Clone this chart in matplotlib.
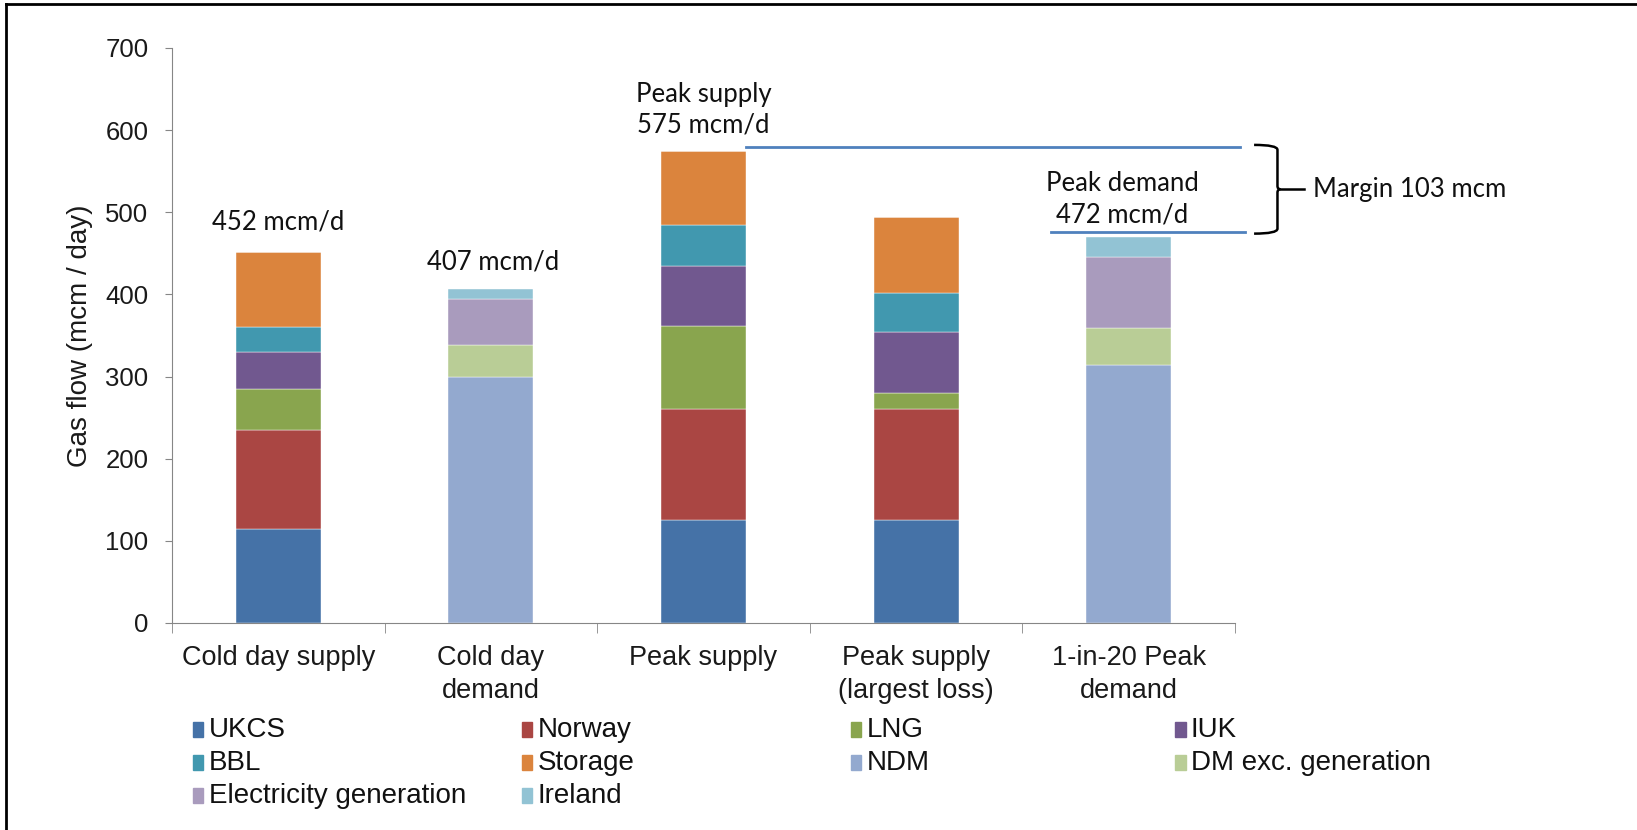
import numpy as np
import matplotlib
matplotlib.use("Agg")
import matplotlib.pyplot as plt
from matplotlib.path import Path
from matplotlib.patches import PathPatch, Rectangle
from matplotlib.lines import Line2D

# Categories and stacked series (mcm/d)
categories = ["Cold day supply", "Cold day\ndemand", "Peak supply",
              "Peak supply\n(largest loss)", "1-in-20 Peak\ndemand"]
series = ["UKCS", "Norway", "LNG", "IUK", "BBL", "Storage",
          "NDM", "DM exc. generation", "Electricity generation", "Ireland"]
ukcs = [115, 0, 125, 125, 0]
norway = [120, 0, 136, 136, 0]
lng = [50, 0, 100, 19, 0]
iuk = [45, 0, 74, 74, 0]
bbl = [30, 0, 49, 48, 0]
storage = [92, 0, 91, 92, 0]
ndm = [0, 299, 0, 0, 314]
dm_exc_gen = [0, 39, 0, 0, 45]
elec_gen = [0, 57, 0, 0, 87]
ireland = [0, 12, 0, 0, 24]
colors = ["#4572A7", "#AA4643", "#89A54E", "#71588F", "#4198AF", "#DB843D",
          "#93A9CF", "#B9CD96", "#A99BBD", "#92C3D4"]

total_labels = ["452 mcm/d", "407 mcm/d", "Peak supply\n575 mcm/d", None, "Peak demand\n472 mcm/d"]
peak_supply = 580
peak_demand = 476
margin_label = "Margin 103 mcm"

fig = plt.figure(figsize=(16.37, 8.30), dpi=100)
ax = fig.add_axes([0.1051, 0.2494, 0.6493, 0.6928])

x = np.arange(len(categories))
data = [ukcs, norway, lng, iuk, bbl, storage, ndm, dm_exc_gen, elec_gen, ireland]
bottom = np.zeros(len(categories))
for vals, name, col in zip(data, series, colors):
    vals = np.array(vals, dtype=float)
    ax.bar(x, vals, width=0.4, bottom=bottom, color=col, label=name,
           edgecolor="white", linewidth=0.3)
    bottom += vals

ax.set_xlim(-0.5, len(categories) - 0.5)
ax.set_ylim(0, 700)
ax.set_yticks(np.arange(0, 701, 100))
ax.tick_params(axis="y", labelsize=18.5, length=5, color="#868686", labelcolor="#1a1a1a", pad=12)
ax.set_xticks(x)
ax.set_xticklabels(categories, fontsize=19.5, color="#1a1a1a", linespacing=1.32)
ax.tick_params(axis="x", which="major", length=0, pad=16)
ax.set_xticks(np.arange(-0.5, len(categories)), minor=True)
ax.tick_params(axis="x", which="minor", length=7, color="#868686")
for s in ["top", "right"]:
    ax.spines[s].set_visible(False)
for s in ["left", "bottom"]:
    ax.spines[s].set_color("#868686")
ax.set_ylabel("Gas flow (mcm / day)", fontsize=20, color="#1a1a1a", labelpad=9)
for lab in ax.get_xticklabels() + ax.get_yticklabels():
    lab.set_family("Liberation Sans")
ax.yaxis.label.set_family("Liberation Sans")

# annotations above bars
ann_font = dict(fontsize=18.5, family="Lato", ha="center", va="center", color="#111111")
ax.text(0, 488, total_labels[0], **ann_font)
ax.text(1.01, 439, total_labels[1], **ann_font)
ax.text(2.0, 625, total_labels[2], linespacing=1.3, **ann_font)
ax.text(3.97, 516, total_labels[4], linespacing=1.3, **ann_font)

# peak supply / demand lines and margin bracket
line_col = "#4F81BD"
ax.plot([2.2, 4.523], [peak_supply, peak_supply], color=line_col, lw=2, clip_on=False)
ax.plot([3.635, 4.547], [peak_demand, peak_demand], color=line_col, lw=2, clip_on=False)

bx0, bx1, bx2 = 4.59, 4.70, 4.825
yt, yb = peak_supply + 2, peak_demand - 2
ym = (yt + yb) / 2
upper = [(bx0, yt), (bx1, yt), (bx1, yt - 6), (bx1, ym + 4), (bx1, ym), (bx1 + 0.015, ym)]
lower = [(bx1 + 0.015, ym), (bx1, ym), (bx1, ym - 4), (bx1, yb + 6), (bx1, yb), (bx0, yb)]
ucodes = [Path.MOVETO, Path.CURVE3, Path.CURVE3, Path.LINETO, Path.CURVE3, Path.CURVE3]
for verts in (upper, lower):
    ax.add_patch(PathPatch(Path(verts, ucodes), fill=False, lw=1.8, color="black", clip_on=False))
ax.plot([bx1 + 0.015, bx2], [ym, ym], color="black", lw=1.8, clip_on=False)
ax.text(4.867, ym, margin_label, fontsize=18.5, family="Lato", ha="left", va="center", color="#111111")

# legend laid out in 4 columns, filled row by row
col_x = [0.121, 0.322, 0.523, 0.721]
row_y = [0.121, 0.081, 0.041]
for i, (name, col) in enumerate(zip(series, colors)):
    r, c = divmod(i, 4)
    fig.patches.append(Rectangle((col_x[c] - 0.003, row_y[r] - 0.009), 0.0062, 0.018,
                                 transform=fig.transFigure, color=col))
    fig.text(col_x[c] + 0.0065, row_y[r], name, fontsize=20, va="center", ha="left",
             family="Liberation Sans", color="#111111")

# outer frame (top and left edges visible)
fig.add_artist(Line2D([0.0037, 1], [0.995, 0.995], transform=fig.transFigure, color="black", lw=2))
fig.add_artist(Line2D([0.0037, 0.0037], [0, 0.995], transform=fig.transFigure, color="black", lw=2))

fig.savefig("out.png", dpi=100)
